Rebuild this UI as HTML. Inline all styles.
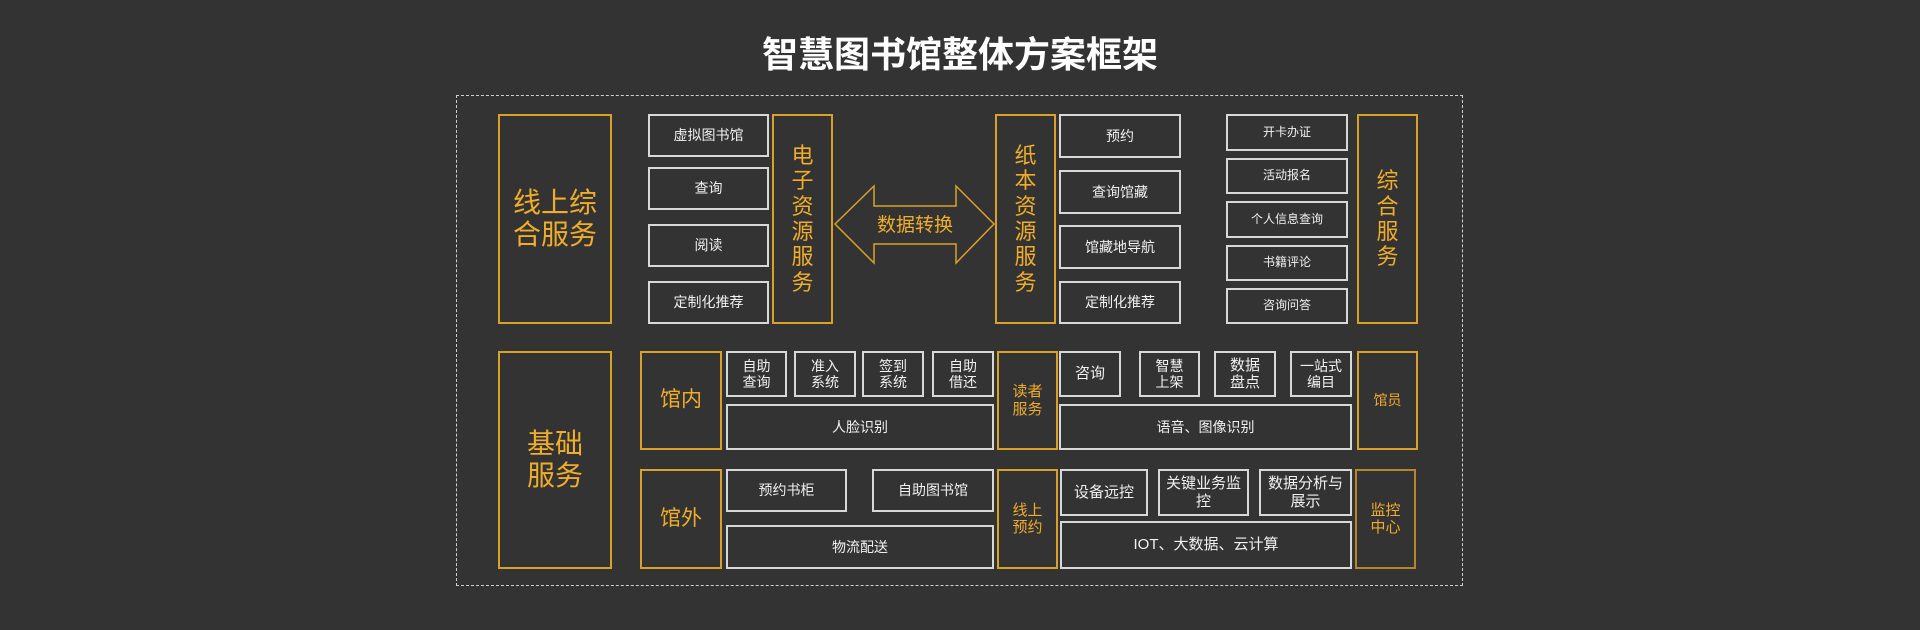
<!DOCTYPE html>
<html><head><meta charset="utf-8"><style>
*{margin:0;padding:0;box-sizing:border-box}
body{width:1920px;height:630px;background:#333333;position:relative;overflow:hidden;font-family:"Liberation Sans","Noto Sans CJK SC",sans-serif}
.b{position:absolute;display:flex;align-items:center;justify-content:center;text-align:center;line-height:1.15}
.g{border:2px solid #d9a12a;color:#efad2a}
.w{border:2px solid #d8d8d8;color:#f0f0f0;font-size:14px}
.s{font-size:12px}
.t{position:absolute;left:0;width:1920px;top:26px;text-align:center;color:#fff;font-size:36px;font-weight:bold}
.d{position:absolute;left:456px;top:95px;width:1007px;height:491px;border:1.5px dashed #cfcfcf}
</style></head><body>
<div class="t">智慧图书馆整体方案框架</div>
<div class="d"></div>

<div class="b g" style="left:498px;top:114px;width:114px;height:210px;font-size:28px">线上综<br>合服务</div>
<div class="b w" style="left:648px;top:114px;width:121px;height:43px">虚拟图书馆</div>
<div class="b w" style="left:648px;top:167px;width:121px;height:43px">查询</div>
<div class="b w" style="left:648px;top:224px;width:121px;height:43px">阅读</div>
<div class="b w" style="left:648px;top:281px;width:121px;height:43px">定制化推荐</div>
<div class="b g" style="left:772px;top:114px;width:61px;height:210px;font-size:22px">电<br>子<br>资<br>源<br>服<br>务</div>
<svg style="position:absolute;left:0;top:0" width="1920" height="630"><polygon points="835,224 874,186 874,206 956,206 956,186 994,224 956,263 956,244 874,244 874,263" fill="none" stroke="#d9a12a" stroke-width="1.5"/><text x="915" y="231" fill="#efad2a" font-size="19" text-anchor="middle" font-family="Liberation Sans,Noto Sans CJK SC,sans-serif">数据转换</text></svg>
<div class="b g" style="left:995px;top:114px;width:61px;height:210px;font-size:22px">纸<br>本<br>资<br>源<br>服<br>务</div>
<div class="b w" style="left:1059px;top:114px;width:122px;height:44px">预约</div>
<div class="b w" style="left:1059px;top:170px;width:122px;height:44px">查询馆藏</div>
<div class="b w" style="left:1059px;top:225px;width:122px;height:44px">馆藏地导航</div>
<div class="b w" style="left:1059px;top:281px;width:122px;height:43px">定制化推荐</div>
<div class="b w s" style="left:1226px;top:114px;width:122px;height:37px">开卡办证</div>
<div class="b w s" style="left:1226px;top:158px;width:122px;height:36px">活动报名</div>
<div class="b w s" style="left:1226px;top:201px;width:122px;height:37px">个人信息查询</div>
<div class="b w s" style="left:1226px;top:245px;width:122px;height:36px">书籍评论</div>
<div class="b w s" style="left:1226px;top:288px;width:122px;height:36px">咨询问答</div>
<div class="b g" style="left:1357px;top:114px;width:61px;height:210px;font-size:22px">综<br>合<br>服<br>务</div>

<div class="b g" style="left:498px;top:351px;width:114px;height:218px;font-size:28px">基础<br>服务</div>
<div class="b g" style="left:640px;top:351px;width:82px;height:99px;font-size:21px">馆内</div>
<div class="b g" style="left:640px;top:469px;width:82px;height:100px;font-size:21px">馆外</div>
<div class="b w" style="left:726px;top:351px;width:61px;height:46px">自助<br>查询</div>
<div class="b w" style="left:794px;top:351px;width:62px;height:46px">准入<br>系统</div>
<div class="b w" style="left:862px;top:351px;width:62px;height:46px">签到<br>系统</div>
<div class="b w" style="left:932px;top:351px;width:62px;height:46px">自助<br>借还</div>
<div class="b w" style="left:726px;top:404px;width:268px;height:46px">人脸识别</div>
<div class="b w" style="left:726px;top:469px;width:121px;height:43px">预约书柜</div>
<div class="b w" style="left:872px;top:469px;width:122px;height:43px">自助图书馆</div>
<div class="b w" style="left:726px;top:525px;width:268px;height:44px">物流配送</div>
<div class="b g" style="left:997px;top:351px;width:61px;height:99px;font-size:15px">读者<br>服务</div>
<div class="b w" style="left:1059px;top:351px;width:62px;height:46px;font-size:15px">咨询</div>
<div class="b w" style="left:1139px;top:351px;width:61px;height:46px">智慧<br>上架</div>
<div class="b w" style="left:1214px;top:351px;width:62px;height:46px;font-size:15px">数据<br>盘点</div>
<div class="b w" style="left:1290px;top:351px;width:62px;height:46px">一站式<br>编目</div>
<div class="b w" style="left:1059px;top:404px;width:293px;height:46px">语音、图像识别</div>
<div class="b g" style="left:1357px;top:351px;width:61px;height:99px;font-size:14px">馆员</div>
<div class="b g" style="left:997px;top:469px;width:61px;height:100px;font-size:15px">线上<br>预约</div>
<div class="b w" style="left:1060px;top:469px;width:88px;height:47px;font-size:15px">设备远控</div>
<div class="b w" style="left:1158px;top:469px;width:91px;height:47px;font-size:15px">关键业务监<br>控</div>
<div class="b w" style="left:1259px;top:469px;width:93px;height:47px;font-size:15px">数据分析与<br>展示</div>
<div class="b w" style="left:1060px;top:521px;width:292px;height:48px;font-size:15px">IOT、大数据、云计算</div>
<div class="b g" style="left:1355px;top:469px;width:61px;height:100px;font-size:15px;border-color:#b8862a">监控<br>中心</div>
</body></html>
